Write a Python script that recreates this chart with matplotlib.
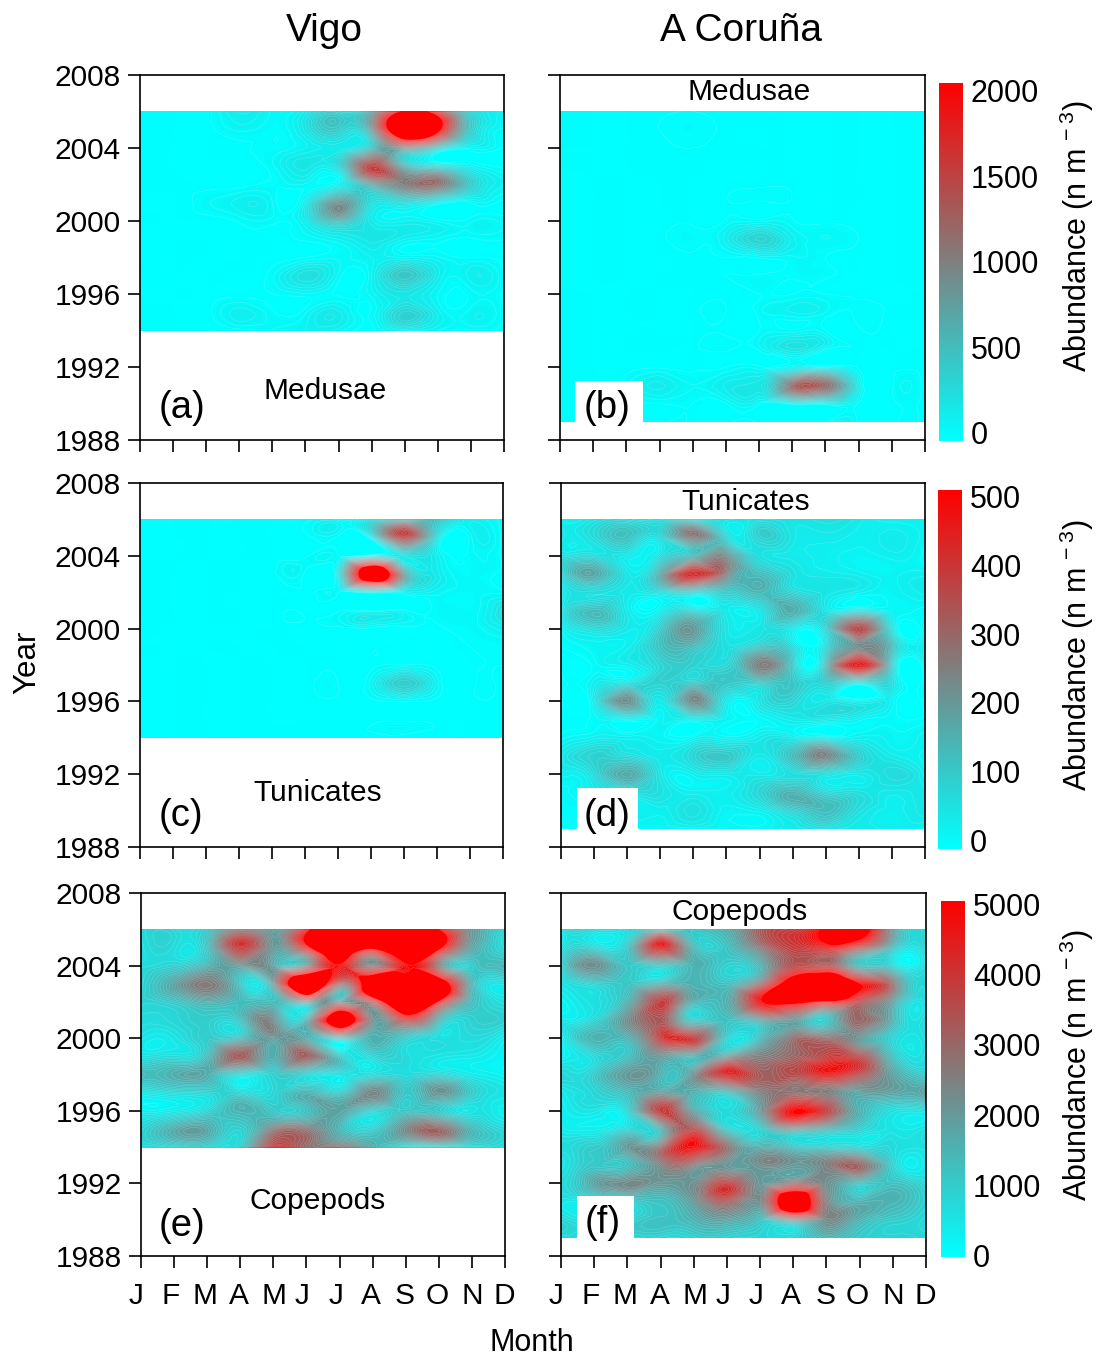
import numpy as np
import matplotlib
matplotlib.use('Agg')
import matplotlib.pyplot as plt
import matplotlib.tri as mtri
from matplotlib.colors import LinearSegmentedColormap, Normalize
from matplotlib.cm import ScalarMappable

plt.rcParams['font.family'] = ['Liberation Sans', 'DejaVu Sans']
plt.rcParams['mathtext.fontset'] = 'custom'
plt.rcParams['mathtext.rm'] = 'Liberation Sans'
plt.rcParams['mathtext.default'] = 'regular'

W, H = 1098, 1356
months = ['J', 'F', 'M', 'A', 'M', 'J', 'J', 'A', 'S', 'O', 'N', 'D']
year_ticks = [1988, 1992, 1996, 2000, 2004, 2008]
years_vigo = list(range(1994, 2007))
years_coruna = list(range(1989, 2007))

# rows are years (oldest first), columns are months
medusae_vigo = [
    [0, 0, 0, 0, 60, 100, 80, 10, 100, 60, 20, 0],
    [20, 0, 0, 120, 30, 50, 150, 30, 350, 120, 80, 20],
    [0, 0, 0, 0, 20, 50, 10, 80, 200, 60, 40, 10],
    [0, 0, 0, 0, 50, 250, 50, 100, 450, 150, 120, 20],
    [0, 0, 0, 0, 0, 20, 50, 100, 100, 70, 20, 0],
    [0, 0, 0, 0, 0, 30, 100, 200, 100, 50, 10, 20],
    [0, 0, 0, 30, 40, 150, 550, 150, 100, 50, 50, 50],
    [0, 0, 50, 120, 60, 150, 850, 250, 250, 100, 20, 0],
    [0, 10, 0, 0, 30, 50, 100, 700, 1000, 1100, 400, 100],
    [0, 0, 0, 0, 50, 200, 300, 1500, 600, 300, 100, 0],
    [0, 0, 0, 10, 30, 100, 150, 500, 900, 400, 80, 10],
    [0, 0, 0, 70, 30, 200, 400, 800, 3000, 2200, 400, 50],
    [0, 0, 0, 150, 50, 150, 300, 700, 2100, 1600, 300, 100],
]
medusae_coruna = [
    [0, 0, 10, 10, 10, 0, 10, 10, 10, 0, 0, 0],
    [0, 0, 10, 20, 20, 20, 30, 100, 100, 10, 0, 0],
    [0, 0, 50, 150, 60, 150, 200, 1150, 1150, 150, 10, 0],
    [0, 0, 0, 10, 10, 20, 30, 100, 90, 10, 0, 0],
    [0, 0, 0, 10, 10, 30, 40, 220, 50, 10, 0, 0],
    [0, 0, 0, 0, 0, 10, 20, 30, 20, 10, 0, 0],
    [0, 0, 0, 0, 10, 20, 40, 100, 60, 30, 10, 20],
    [0, 0, 0, 0, 0, 10, 20, 20, 20, 10, 0, 0],
    [0, 0, 0, 0, 10, 20, 30, 30, 30, 0, 0, 0],
    [0, 0, 0, 0, 10, 20, 30, 50, 20, 0, 0, 0],
    [0, 0, 0, 10, 40, 120, 350, 120, 60, 20, 0, 0],
    [0, 0, 0, 0, 10, 30, 50, 30, 10, 0, 0, 0],
    [0, 0, 0, 0, 0, 10, 10, 10, 0, 0, 0, 0],
    [0, 0, 0, 0, 0, 0, 10, 10, 0, 0, 0, 0],
    [0, 0, 0, 10, 10, 0, 0, 0, 0, 0, 0, 0],
    [0, 0, 0, 10, 20, 10, 0, 0, 0, 0, 0, 0],
    [0, 0, 0, 20, 40, 10, 0, 0, 0, 0, 0, 0],
    [0, 0, 0, 10, 20, 10, 0, 0, 0, 0, 0, 0],
]
tunicates_vigo = [
    [0, 0, 0, 0, 0, 0, 0, 0, 0, 0, 0, 0],
    [0, 0, 0, 0, 0, 0, 0, 0, 0, 0, 0, 0],
    [0, 0, 0, 0, 0, 0, 0, 0, 5, 0, 0, 0],
    [0, 0, 0, 0, 0, 0, 5, 20, 100, 20, 0, 0],
    [0, 0, 0, 0, 0, 0, 0, 0, 5, 0, 0, 5],
    [0, 0, 0, 0, 0, 0, 0, 0, 0, 0, 5, 10],
    [0, 0, 0, 0, 0, 0, 0, 0, 0, 0, 10, 30],
    [0, 0, 0, 0, 0, 0, 0, 0, 10, 10, 10, 60],
    [0, 0, 0, 0, 0, 0, 5, 30, 20, 20, 10, 10],
    [0, 0, 0, 0, 0, 0, 50, 700, 200, 40, 10, 0],
    [0, 0, 0, 0, 0, 0, 5, 40, 40, 30, 10, 0],
    [0, 0, 0, 0, 0, 0, 0, 30, 350, 60, 10, 0],
    [0, 0, 0, 0, 0, 0, 0, 50, 130, 110, 20, 0],
]
tunicates_coruna = [
    [10, 10, 10, 20, 20, 20, 20, 40, 50, 40, 30, 20],
    [10, 20, 30, 30, 60, 20, 30, 90, 130, 60, 30, 50],
    [10, 40, 60, 60, 30, 30, 80, 150, 80, 60, 40, 50],
    [30, 70, 170, 50, 30, 40, 40, 60, 60, 40, 70, 30],
    [40, 90, 70, 40, 80, 110, 40, 130, 240, 100, 40, 20],
    [10, 30, 30, 20, 20, 20, 40, 40, 40, 30, 20, 30],
    [0, 10, 20, 20, 30, 20, 10, 40, 40, 20, 10, 10],
    [10, 40, 220, 40, 230, 40, 50, 80, 50, 30, 20, 20],
    [10, 30, 60, 90, 110, 110, 100, 110, 90, 40, 60, 20],
    [5, 10, 30, 80, 90, 80, 250, 100, 130, 450, 100, 40],
    [5, 20, 30, 120, 130, 60, 110, 70, 70, 220, 130, 60],
    [20, 70, 40, 100, 200, 50, 50, 40, 90, 360, 60, 30],
    [40, 130, 40, 30, 70, 40, 50, 160, 50, 60, 20, 10],
    [30, 60, 40, 60, 80, 100, 140, 80, 50, 30, 20, 40],
    [70, 170, 50, 170, 420, 250, 130, 60, 40, 30, 20, 30],
    [60, 70, 40, 60, 140, 220, 60, 40, 30, 20, 30, 10],
    [50, 70, 120, 70, 250, 80, 90, 50, 40, 30, 40, 20],
    [30, 50, 60, 50, 70, 50, 50, 50, 60, 40, 20, 20],
]
copepods_vigo = [
    [700, 800, 900, 1000, 3800, 2800, 2700, 1600, 700, 800, 700, 600],
    [800, 1600, 1700, 900, 2500, 2600, 1400, 900, 2300, 3000, 1400, 700],
    [300, 400, 800, 1500, 1100, 1200, 1800, 900, 1100, 1000, 500, 300],
    [500, 700, 800, 800, 800, 1500, 1000, 2400, 1100, 2100, 1000, 500],
    [1400, 1600, 1600, 700, 900, 800, 500, 700, 700, 800, 400, 200],
    [600, 700, 1300, 3200, 1600, 3100, 1100, 800, 700, 500, 400, 200],
    [500, 500, 1000, 1300, 2000, 1600, 1200, 1500, 1000, 600, 700, 300],
    [700, 800, 1000, 1200, 2200, 1500, 6500, 2200, 3800, 1500, 900, 900],
    [900, 1100, 1600, 1300, 1300, 2000, 2100, 3500, 7500, 4800, 1300, 600],
    [800, 1800, 2600, 1100, 2000, 7500, 3000, 7000, 7000, 6500, 1500, 500],
    [700, 900, 1500, 2000, 1800, 2200, 4800, 2500, 4800, 2600, 1000, 1400],
    [600, 700, 1200, 3900, 2000, 4500, 7500, 5500, 7500, 5500, 1800, 700],
    [700, 700, 1000, 2500, 1800, 4500, 7000, 7000, 7000, 5000, 2000, 800],
]
copepods_coruna = [
    [700, 700, 800, 800, 900, 900, 800, 800, 1400, 1000, 900, 800],
    [800, 700, 900, 1200, 1500, 1800, 1200, 2300, 2300, 1500, 1000, 700],
    [500, 700, 900, 1200, 2000, 3200, 2300, 7000, 2500, 1500, 1500, 900],
    [700, 1800, 2300, 2000, 2200, 3800, 2000, 2800, 2200, 1200, 1200, 700],
    [500, 1100, 1200, 2400, 2500, 2000, 2200, 2000, 2500, 3000, 900, 500],
    [700, 1000, 2000, 2800, 4700, 2800, 1600, 1200, 1000, 800, 700, 600],
    [400, 300, 800, 1500, 3500, 1000, 900, 2000, 1500, 900, 500, 600],
    [300, 500, 800, 3800, 1800, 700, 2000, 5000, 3800, 1500, 600, 600],
    [400, 800, 1300, 2000, 1500, 1200, 2400, 2800, 2500, 1800, 1800, 2000],
    [800, 1000, 2000, 1500, 2200, 4200, 3200, 3500, 4500, 3500, 1800, 1000],
    [200, 700, 1200, 2000, 1500, 2000, 2500, 3000, 3800, 3500, 1200, 700],
    [300, 1500, 1500, 3800, 3800, 900, 1300, 2800, 2800, 2000, 800, 700],
    [400, 800, 2200, 3300, 1000, 1200, 1800, 2000, 1000, 3000, 1500, 800],
    [200, 600, 1500, 3800, 1500, 1600, 4800, 5500, 4800, 3500, 1800, 700],
    [500, 900, 1100, 1500, 1500, 1200, 2800, 6500, 7500, 5000, 2800, 800],
    [800, 2200, 1100, 1100, 1500, 900, 1500, 3500, 3500, 1300, 800, 800],
    [500, 800, 1100, 4300, 1400, 1200, 2600, 3800, 4500, 3500, 1300, 900],
    [500, 700, 700, 1300, 1100, 1600, 3200, 3800, 5500, 6000, 2000, 1000],
]

cmap = LinearSegmentedColormap.from_list('abund', ['#00ffff', '#808080', '#ff0000'], N=256)
cmap.set_under('#00ffff')
cmap.set_over('#ff0000')

# month letters sit a little left of their ticks in the original
label_shift = [-5, -3, -2, -1, 1, -4, -4, -2, -1, -2, 0, -1]


def px_axes(left, top, right, bottom):
    return fig.add_axes([left / W, 1 - bottom / H, (right - left) / W, (bottom - top) / H])


def px_text(x, y, s, size, **kw):
    kw.setdefault('ha', 'center')
    kw.setdefault('va', 'center')
    return fig.text(x / W, 1 - y / H, s, fontsize=size, **kw)


def draw_panel(box, values, years, vmax, show_years, show_months):
    ax = px_axes(*box)
    xx, yy = np.meshgrid(np.arange(12.0), np.array(years, dtype=float))
    tri = mtri.Triangulation(xx.ravel(), yy.ravel())
    refiner = mtri.UniformTriRefiner(tri)
    fine, zfine = refiner.refine_field(np.array(values, dtype=float).ravel(), subdiv=3)
    levels = np.linspace(0, vmax, 101)
    ax.tricontourf(fine, zfine, levels=levels, cmap=cmap, extend='both', vmin=0, vmax=vmax)
    ax.tricontour(fine, zfine, levels=levels[1::2], colors='white', linewidths=0.25, alpha=0.35)
    ax.set_xlim(0, 11)
    ax.set_ylim(1988, 2008)
    ax.set_xticks(range(12))
    ax.set_yticks(year_ticks)
    ax.tick_params(length=8.6, width=1.2, labelsize=21.5, pad=5)
    ax.set_xticklabels([])
    if show_months:
        for i, m in enumerate(months):
            ax.annotate(m, xy=(i, 0), xycoords=('data', 'axes fraction'),
                        xytext=(label_shift[i] * 0.72, -28.5), textcoords='offset points',
                        ha='center', va='center', fontsize=21.5)
    if not show_years:
        ax.set_yticklabels([])
    for sp in ax.spines.values():
        sp.set_linewidth(1.2)
    return ax


def draw_bar(box, vmax, step, label_x, y_top, y_bottom, label_y):
    cax = px_axes(*box)
    cb = fig.colorbar(ScalarMappable(Normalize(0, vmax), cmap), cax=cax, ticks=[])
    cb.outline.set_visible(False)
    vals = np.arange(0, vmax + 1, step)
    for v in vals:
        y = y_bottom + (y_top - y_bottom) * v / vmax
        px_text(label_x, y + 2, str(v), 22, ha='left')
    px_text(1077, label_y, 'Abundance (n m$^{\\,-3}$)', 22, rotation=90)


fig = plt.figure(figsize=(W / 100, H / 100), dpi=100)

draw_panel((140, 75, 504, 440), medusae_vigo, years_vigo, 2000, True, False)
draw_panel((560, 75, 925, 440), medusae_coruna, years_coruna, 2000, False, False)
draw_panel((140, 483, 503, 847), tunicates_vigo, years_vigo, 500, True, False)
draw_panel((561, 483, 925, 847), tunicates_coruna, years_coruna, 500, False, False)
draw_panel((141, 893, 505, 1256), copepods_vigo, years_vigo, 5000, True, True)
draw_panel((561, 893, 926, 1256), copepods_coruna, years_coruna, 5000, False, True)

# white boxes behind the panel letters, they cover part of the field
for x0, y0, x1, y1 in [(575, 381, 643, 423), (577, 788, 638, 830), (577, 1196, 634, 1239)]:
    fig.patches.append(plt.Rectangle((x0 / W, 1 - y1 / H), (x1 - x0) / W, (y1 - y0) / H,
                                     transform=fig.transFigure, facecolor='white',
                                     edgecolor='none', figure=fig, zorder=5))

draw_bar((939, 83, 963, 441), 2000, 500, 971, 92, 434, 236)
draw_bar((938, 490, 962, 849), 500, 100, 970, 498, 842, 655)
draw_bar((941, 901, 965, 1257), 5000, 1000, 973, 906, 1257, 1065)

px_text(324, 31, 'Vigo', 28)
px_text(741, 31, 'A Coruña', 28)
px_text(27, 662, 'Year', 22.5, rotation=90)
px_text(532, 1343, 'Month', 22)

px_text(325, 391, 'Medusae', 21.5, zorder=6)
px_text(749, 92, 'Medusae', 21.5, zorder=6)
px_text(318, 793, 'Tunicates', 21.5, zorder=6)
px_text(746, 502, 'Tunicates', 21.5, zorder=6)
px_text(318, 1201, 'Copepods', 21.5, zorder=6)
px_text(740, 912, 'Copepods', 21.5, zorder=6)

px_text(182, 408, '(a)', 27.5, zorder=6)
px_text(607, 408, '(b)', 27.5, zorder=6)
px_text(181, 816, '(c)', 27.5, zorder=6)
px_text(607, 816, '(d)', 27.5, zorder=6)
px_text(182, 1226, '(e)', 27.5, zorder=6)
px_text(603, 1223, '(f)', 27.5, zorder=6)

fig.savefig('out.png', dpi=100)
